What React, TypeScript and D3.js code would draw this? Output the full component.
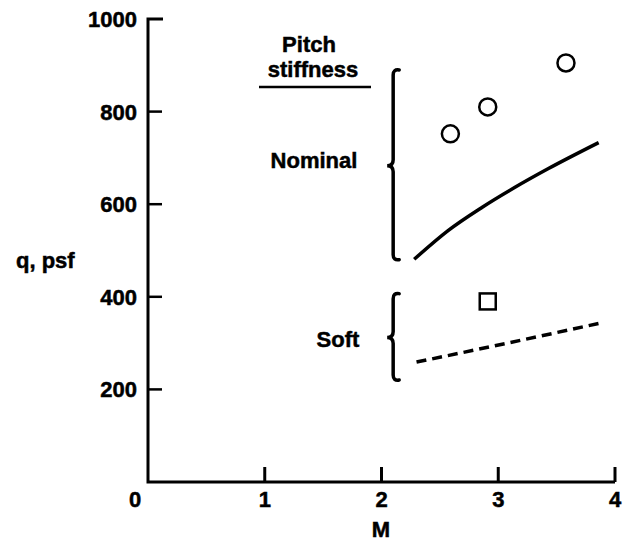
import React from "react";
import * as d3 from "d3";

const yTicks = [0, 200, 400, 600, 800, 1000];
const xTicks = [0, 1, 2, 3, 4];
const nominalM = [2.28, 2.57, 2.86, 3.14, 3.43, 3.86];
const nominalQ = [481, 543, 593, 636, 677, 733];
const softM = [2.3, 3.08, 3.87];
const softQ = [259, 300, 343];
const circleM = [2.59, 2.91, 3.58];
const circleQ = [752, 810, 905];
const squareM = [2.91];
const squareQ = [390];
// braces: [M, top q, mid q, bottom q]
const braceM = [2.1, 2.1];
const braceTop = [892, 409];
const braceMid = [683, 312];
const braceBot = [478, 218];
const braceLabels = ["Nominal", "Soft"];

const W = 626, H = 542;
const FONT = "'Liberation Sans', Arial, Helvetica, sans-serif";

export default function App() {
  const x = d3.scaleLinear().domain([0, 4]).range([148, 615]);
  const y = d3.scaleLinear().domain([0, 1000]).range([482, 19]);

  const solidLine = d3
    .line<number>()
    .x((_, i) => x(nominalM[i]))
    .y((d) => y(d))
    .curve(d3.curveMonotoneX)(nominalQ);
  const dashLine = d3
    .line<number>()
    .x((_, i) => x(softM[i]))
    .y((d) => y(d))
    .curve(d3.curveMonotoneX)(softQ);

  const bracePath = (i: number) => {
    const bx = x(braceM[i]);
    const t = y(braceTop[i]);
    const m = y(braceMid[i]);
    const b = y(braceBot[i]);
    const h = 6;
    const p = 6;
    return [
      `M${bx + h},${t + 1}`,
      `Q${bx},${t} ${bx},${t + 6}`,
      `L${bx},${m - 6}`,
      `Q${bx},${m} ${bx - p},${m}`,
      `Q${bx},${m} ${bx},${m + 6}`,
      `L${bx},${b - 6}`,
      `Q${bx},${b} ${bx + h},${b - 1}`,
    ].join(" ");
  };

  const txt = { fontSize: 22, stroke: "#000", strokeWidth: 0.5 } as const;

  return (
    <svg
      width={W}
      height={H}
      style={{ position: "absolute", left: 0, top: 0, background: "#fff" }}
      fontFamily={FONT}
      fontWeight="bold"
    >
      {/* axes */}
      <path
        d={`M${x(0) + 15},${y(1000)} L${x(0)},${y(1000)} L${x(0)},${y(0)} L${x(4)},${y(0)}`}
        fill="none"
        stroke="#000"
        strokeWidth={3}
      />
      {yTicks.filter((v) => v > 0 && v < 1000).map((v) => (
        <line key={v} x1={x(0)} x2={x(0) + 14} y1={y(v)} y2={y(v)} stroke="#000" strokeWidth={2.5} />
      ))}
      {yTicks.filter((v) => v > 0).map((v) => (
        <text key={v} x={x(0) - 11} y={y(v)} dy="0.36em" textAnchor="end" {...txt}>
          {v}
        </text>
      ))}
      {xTicks.filter((v) => v > 0).map((v) => (
        <line key={v} x1={x(v)} x2={x(v)} y1={y(0)} y2={y(0) - 15} stroke="#000" strokeWidth={3} />
      ))}
      {xTicks.map((v) => (
        <text key={v} x={v === 0 ? x(v) - 13 : x(v)} y={507} textAnchor="middle" {...txt}>
          {v}
        </text>
      ))}
      <text x={381} y={537} textAnchor="middle" {...txt}>M</text>
      <text x={16} y={268} {...txt}>q, psf</text>

      {/* legend heading */}
      <text x={309} y={52} textAnchor="middle" {...txt}>Pitch</text>
      <text x={313} y={77} textAnchor="middle" {...txt}>stiffness</text>
      <line x1={259} x2={371} y1={87} y2={87} stroke="#000" strokeWidth={2.5} />

      {/* braces */}
      {braceM.map((_, i) => (
        <g key={i}>
          <path d={bracePath(i)} fill="none" stroke="#000" strokeWidth={3.5} strokeLinecap="round" />
          <text
            x={i === 0 ? 314 : 338}
            y={i === 0 ? 168 : 347}
            textAnchor="middle"
            {...txt}
          >
            {braceLabels[i]}
          </text>
        </g>
      ))}

      {/* curves */}
      <path d={solidLine ?? ""} fill="none" stroke="#000" strokeWidth={3.5} />
      <path d={dashLine ?? ""} fill="none" stroke="#000" strokeWidth={3.5} strokeDasharray="10,6" />

      {/* data points */}
      {circleM.map((m, i) => (
        <circle key={i} cx={x(m)} cy={y(circleQ[i])} r={8.5} fill="none" stroke="#000" strokeWidth={2.5} />
      ))}
      {squareM.map((m, i) => (
        <rect
          key={i}
          x={x(m) - 8}
          y={y(squareQ[i]) - 8}
          width={16}
          height={16}
          fill="none"
          stroke="#000"
          strokeWidth={2.5}
        />
      ))}
    </svg>
  );
}
